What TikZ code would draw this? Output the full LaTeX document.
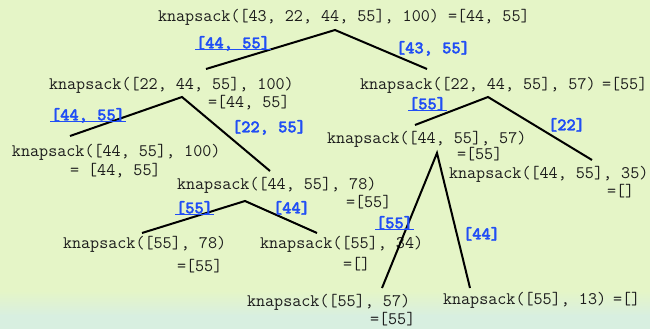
\documentclass[tikz,border=0pt]{standalone}
\usepackage{fontspec}
\newfontfamily\picktt{lmmonolt10-bold.otf}[FakeBold=2]
\usetikzlibrary{positioning}
\definecolor{paper}{RGB}{229,245,199}
\definecolor{paperlow}{RGB}{216,239,224}
\definecolor{ink}{RGB}{28,28,28}
\definecolor{pickblue}{RGB}{32,78,245}
\begin{document}
\begin{tikzpicture}
[x=1pt, y=-1pt, line width=2pt,
call/.style={anchor=west, inner sep=0pt, text height=13.6pt, text depth=3pt, text=ink, font=\ttfamily\fontsize{17.6}{20}\selectfont},
pick/.style={call, text=pickblue, font=\picktt\fontsize{17.6}{20}\selectfont},
underline/.style={draw=pickblue, line width=1.1pt}]

% background
\useasboundingbox (0,0) rectangle (650,329);
\fill[paper] (0,0) rectangle (650,292);
\shade[top color=paper, bottom color=paperlow] (0,291) rectangle (650,316);
\fill[paperlow] (0,315) rectangle (650,329);

% calls and results
\node[call] (call0) at (157,16) {knapsack([43, 22, 44, 55], 100) =[44, 55]};
\node[call] (call1) at (48,84) {knapsack([22, 44, 55], 100)};
\node[call] (res1) at (207,102) {=[44, 55]};
\node[call] (call2) at (359,84) {knapsack([22, 44, 55], 57)};
\node[call] (res2) at (601,84) {=[55]};
\node[call] (call3) at (11,151) {knapsack([44, 55], 100)};
\node[call] (res3) at (69,170) {= [44, 55]};
\node[call] (call4) at (176,184) {knapsack([44, 55], 78)};
\node[call] (res4) at (345,202) {=[55]};
\node[call] (call5) at (326,138) {knapsack([44, 55], 57)};
\node[call] (res5) at (456,154) {=[55]};
\node[call] (call6) at (448,173) {knapsack([44, 55], 35)};
\node[call] (res6) at (606,191) {=[]};
\node[call] (call7) at (62,243) {knapsack([55], 78)};
\node[call] (res7) at (176,266) {=[55]};
\node[call] (call8) at (259,243) {knapsack([55], 34)};
\node[call] (res8) at (342,264) {=[]};
\node[call] (call9) at (246,301) {knapsack([55], 57)};
\node[call] (res9) at (369,319) {=[55]};
\node[call] (call10) at (442,299) {knapsack([55], 13)};
\node[call] (res10) at (612,299) {=[]};

% forks
\coordinate (fork0) at (335,30);
\coordinate (fork1) at (182,97);
\coordinate (fork2) at (488,97);
\coordinate (fork4) at (245,201);
\coordinate (fork5) at (437,153);
\coordinate (top1) at (206,69);
\coordinate (top2) at (427,69);
\coordinate (top3) at (70,136);
\coordinate (top4) at (270,171);
\coordinate (top5) at (415,125);
\coordinate (top6) at (592,160);
\coordinate (top7) at (142,233);
\coordinate (top8) at (317,233);
\coordinate (top9) at (382,288);
\coordinate (top10) at (470,288);

\draw (top1) -- (fork0) -- (top2);
\draw (top3) -- (fork1) -- (top4);
\draw (top5) -- (fork2) -- (top6);
\draw (top7) -- (fork4) -- (top8);
\draw (top9) -- (fork5) -- (top10);

% what each branch keeps
\node[pick] (pick1) at (195,43) {[44, 55]};
\node[pick] (pick2) at (395,48) {[43, 55]};
\node[pick] (pick3) at (50,115) {[44, 55]};
\node[pick] (pick4) at (231,127) {[22, 55]};
\node[pick] (pick5) at (408,104) {[55]};
\node[pick] (pick6) at (547,125) {[22]};
\node[pick] (pick7) at (175,208) {[55]};
\node[pick] (pick8) at (272,208) {[44]};
\node[pick] (pick9) at (375,223) {[55]};
\node[pick] (pick10) at (462,234) {[44]};

\foreach \p in {pick1,pick3,pick5,pick7,pick9}
  \draw[underline] ([yshift=-1.2pt]\p.base west) -- ([yshift=-1.2pt]\p.base east);
\end{tikzpicture}
\end{document}
